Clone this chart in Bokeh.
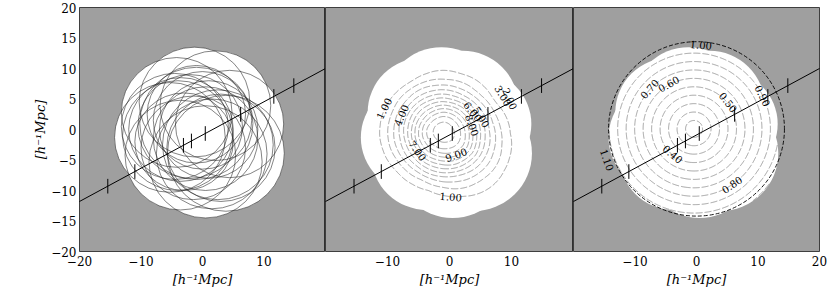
import numpy as np
from bokeh.plotting import figure
from bokeh.models import Range1d, FixedTicker, Slope
from bokeh.layouts import row
from bokeh.core.properties import value
from bokeh.embed import file_html
from bokeh.resources import INLINE

# ---------------- data ----------------
# circles of the left panel (centre x, centre y, radius) [h^-1 Mpc]
circle_x = [-1.3, 2.1, 4.4, 3.8, 0.5, -3.6, -5.3, -4.2,
            -2.0, 0.5, -3.0, 0.0, -3.5, 1.0, -1.5, -1.0,
            -4.0, -4.5, 2.5, 3.0, -1.0, 1.5]
circle_y = [4.5, 3.9, 0.9, -3.9, -5.3, -4.2, -1.3, 2.8,
            0.5, -1.5, -2.0, 1.5, 0.0, 0.0, -3.0, 2.5,
            -1.0, 0.5, -2.5, -3.0, 1.0, -4.0]
circle_r = [9.0, 9.0, 8.8, 9.5, 9.2, 9.0, 9.0, 9.0,
            8.5, 8.5, 8.0, 8.0, 8.5, 8.0, 8.5, 8.0,
            9.0, 8.7, 9.0, 8.8, 9.2, 9.0]

# straight line through the volume and its tick marks
line_slope = 0.545
line_intercept = -0.9
tick_x = [-15.4, -11.0, -3.1, -1.8, 0.45, 6.2, 11.6, 14.85]

# middle panel: density contours
density_levels = [1, 2, 3, 4, 5, 6, 7, 8, 9, 10, 11, 12]
density_peak = 12.6
mid_label_level = [1, 4, 7, 9, 8, 6, 5, 3, 2, 1]
mid_label_x = [-11.9, -8.8, -5.4, 1.0, 4.0, 4.8, 7.0, 8.6, 9.7, 0.2]
mid_label_y = [4.0, 2.85, -3.6, -4.0, 1.0, 3.9, 2.85, 5.5, 5.0, -13.3]

# right panel: radial contours
ring_center = (-0.4, 0.1)
ring_scale = 13.8
ring_levels = [0.1, 0.2, 0.3, 0.4, 0.5, 0.6, 0.7, 0.8, 0.9, 1.0, 1.1]
right_label_level = [1.0, 0.7, 0.6, 0.5, 0.9, 0.4, 0.8, 1.1]
right_label_x = [0.66, -7.97, -4.47, 5.24, 10.6, -3.66, 6.05, -13.7]
right_label_y = [12.95, 6.9, 7.4, 4.47, 5.5, -3.87, -9.4, -4.6]
outer_circle = (0.0, 0.1, 14.3)

x_ticks_left = [-20, -10, 0, 10]
x_ticks_mid = [-10, 0, 10]
x_ticks_right = [-10, 0, 10, 20]
y_ticks = [-20, -15, -10, -5, 0, 5, 10, 15, 20]
axis_title = "[h\u207b\u00b9Mpc]"

# ---------------- derived fields ----------------
xs = np.linspace(-20, 20, 401)
step = xs[1] - xs[0]
X, Y = np.meshgrid(xs, xs)
cx = np.array(circle_x); cy = np.array(circle_y); cr = np.array(circle_r)
D = np.sqrt((X[None] - cx[:, None, None]) ** 2 + (Y[None] - cy[:, None, None]) ** 2)
U = (D <= cr[:, None, None]).any(axis=0)
cones = np.clip(cr[:, None, None] - D, 0, None).sum(axis=0)
f2 = cones / cones.max() * density_peak
f3 = np.hypot(X - ring_center[0], Y - ring_center[1]) / ring_scale
z2 = np.where(U, f2, np.nan)
z3 = np.where(U, f3, np.nan)


def label_positions(f, levels, lx, ly, win=2.5, tol=0.1):
    gy, gx = np.gradient(f, step)
    gm = np.hypot(gx, gy) + 1e-12
    out_x, out_y, out_a = [], [], []
    for lev, x0, y0 in zip(levels, lx, ly):
        dc = np.abs(f - lev) / gm
        dp = np.hypot(X - x0, Y - y0)
        ok = (dc < tol) & (gm > 1e-6) & (dp < win)
        if ok.any():
            idx = np.argmin(np.where(ok, dp, np.inf))
        else:
            idx = np.argmin(dp)
        j, i = np.unravel_index(idx, f.shape)
        ang = np.degrees(np.arctan2(gy[j, i], gx[j, i])) + 90.0
        ang = (ang + 90.0) % 180.0 - 90.0
        if ok.any():
            out_x.append(float(X[j, i])); out_y.append(float(Y[j, i]))
        else:
            out_x.append(x0); out_y.append(y0)
        out_a.append(float(ang))
    return out_x, out_y, out_a


BG = "#9f9f9f"
FONT = "DejaVu Serif"
H = 289
CONTOUR = dict(line_color="#8a8a8a", line_width=0.8, line_dash="7 2", fill_color=None)


def fmt(v):
    return f"{v:g}".replace("-", "\u2212")


def panel(width, left, right, xticks, show_y):
    p = figure(width=width, height=H, x_range=Range1d(-20, 20), y_range=Range1d(-20, 20),
               min_border_left=left, min_border_right=right, min_border_top=7, min_border_bottom=34,
               output_backend="svg", toolbar_location=None,
               y_axis_location="left" if show_y else None,
               background_fill_color=BG, border_fill_color="white",
               outline_line_color="black", outline_line_width=0.7)
    p.grid.visible = False
    axes = [p.xaxis[0]] + ([p.yaxis[0]] if show_y else [])
    for ax in axes:
        ax.axis_line_color = None
        ax.major_tick_line_color = None
        ax.minor_tick_line_color = None
        ax.major_tick_out = 0
        ax.major_tick_in = 0
        ax.minor_tick_out = 0
        ax.major_label_text_font = FONT
        ax.major_label_text_font_size = "12px"
        ax.major_label_text_color = "black"
        ax.axis_label = axis_title
        ax.axis_label_text_font = FONT
        ax.axis_label_text_font_size = "13px"
        ax.axis_label_text_font_style = "italic"
        ax.axis_label_text_color = "black"
    p.xaxis.ticker = FixedTicker(ticks=xticks)
    p.xaxis.major_label_overrides = {t: fmt(t) for t in xticks}
    p.xaxis.major_label_standoff = 4
    p.xaxis.axis_label_standoff = 3
    if show_y:
        p.yaxis.ticker = FixedTicker(ticks=y_ticks)
        p.yaxis.major_label_overrides = {t: fmt(t) for t in y_ticks}
        p.yaxis.major_label_standoff = 3
        p.yaxis.axis_label_standoff = 0
    # white union of circles
    p.ellipse(x=circle_x, y=circle_y, width=[2 * r for r in circle_r], height=[2 * r for r in circle_r],
              fill_color="white", line_color=None)
    return p


def add_line(p):
    p.add_layout(Slope(gradient=line_slope, y_intercept=line_intercept, line_color="black", line_width=1))
    ty = [line_slope * t + line_intercept for t in tick_x]
    p.segment(x0=tick_x, y0=[v - 1.2 for v in ty], x1=tick_x, y1=[v + 1.2 for v in ty],
              line_color="black", line_width=1)


text_kw = dict(text_font=value(FONT), text_font_size="10px", text_align="center",
               text_baseline="middle", text_color="black", angle_units="deg")

# left panel
p1 = panel(79 + 246, 79, 0, x_ticks_left, True)
p1.ellipse(x=circle_x, y=circle_y, width=[2 * r for r in circle_r], height=[2 * r for r in circle_r],
           fill_color=None, line_color="#222222", line_alpha=0.8, line_width=0.7)
add_line(p1)

# middle panel
p2 = panel(248, 0, 0, x_ticks_mid, False)
p2.contour(xs, xs, z2, density_levels, **CONTOUR)
lx, ly, la = label_positions(f2, mid_label_level, mid_label_x, mid_label_y)
add_line(p2)
p2.text(x=lx, y=ly, angle=la, text=[f"{v:.2f}" for v in mid_label_level], **text_kw)

# right panel
p3 = panel(246 + 10, 0, 10, x_ticks_right, False)
p3.contour(xs, xs, z3, ring_levels, **CONTOUR)
p3.ellipse(x=[outer_circle[0]], y=[outer_circle[1]], width=[2 * outer_circle[2]], height=[2 * outer_circle[2]],
           fill_color=None, line_color="black", line_width=0.9, line_dash="4 2")
rx, ry, ra = label_positions(f3, right_label_level, right_label_x, right_label_y)
add_line(p3)
p3.text(x=rx, y=ry, angle=ra, text=[f"{v:.2f}" for v in right_label_level], **text_kw)

layout = row(p1, p2, p3, spacing=0)
open("out.html", "w").write(file_html(layout, INLINE))
